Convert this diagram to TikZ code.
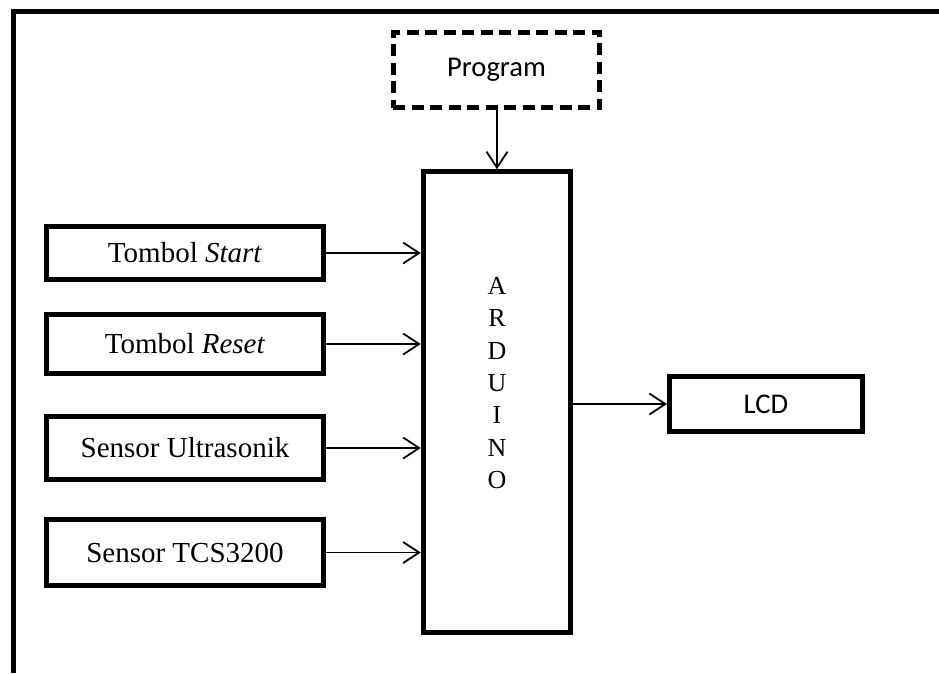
\documentclass[tikz,border=0pt]{standalone}
\usepackage{fontspec}
\setmainfont{Liberation Serif}
\newfontfamily\calibri{Carlito}
\usetikzlibrary{arrows.meta}
\tikzset{
  blk/.style={draw, line width=5pt, line join=miter, inner sep=0pt, font=\fontsize{29}{34}\selectfont},
  sansblk/.style={blk, font=\calibri\fontsize{28.6}{34}\selectfont},
  arr/.style={line width=1.8pt, -{Straight Barb[length=16pt, width=21pt, line width=1.8pt]}},
}
\begin{document}
\begin{tikzpicture}[x=1pt, y=-1pt]
\useasboundingbox (0,0) rectangle (939,673);
\fill[white] (0,0) rectangle (939,673);
% outer frame (top and left edges)
\draw[line width=5pt, line join=miter] (13.5,673) -- (13.5,11) -- (939,11);
% blocks
\node[sansblk, dashed, dash pattern=on 12pt off 6.5pt, minimum width=206.5pt, minimum height=75pt] (prog) at (496.5,70) {Program};
\node[blk, minimum width=147.5pt, minimum height=460.5pt] (ard) at (497,402) {};
\node[font=\fontsize{26}{32.3}\selectfont, align=center, inner sep=0pt] (ardtxt) at (497,383) {A\\R\\D\\U\\I\\N\\O};
\node[blk, minimum width=277pt, minimum height=53pt] (start) at (185,253) {Tombol \textit{Start}};
\node[blk, minimum width=277pt, minimum height=59pt] (reset) at (185,344) {Tombol \textit{Reset}};
\node[blk, minimum width=277pt, minimum height=63pt] (ultra) at (185,448) {Sensor Ultrasonik};
\node[blk, minimum width=277pt, minimum height=66pt] (tcs) at (185,552.5) {Sensor TCS3200};
\node[sansblk, minimum width=193pt, minimum height=55pt] (lcd) at (766,404) {LCD};
% connectors
\draw[arr] (prog.south -| ard.north) -- (ard.north);
\draw[arr] (start.east) -- (start.east -| ard.west);
\draw[arr] (reset.east) -- (reset.east -| ard.west);
\draw[arr] (ultra.east) -- (ultra.east -| ard.west);
\draw[arr] (tcs.east) -- (tcs.east -| ard.west);
\draw[arr] (lcd.west -| ard.east) -- (lcd.west);
\end{tikzpicture}
\end{document}
